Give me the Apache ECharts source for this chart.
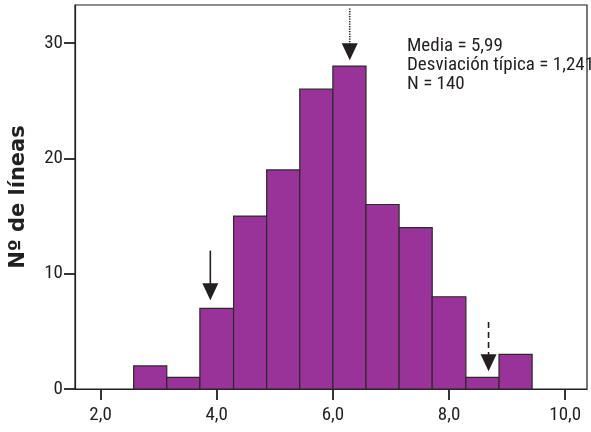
<!DOCTYPE html>
<html>
<head>
<meta charset="utf-8">
<script src="https://cdn.jsdelivr.net/npm/echarts@6/dist/echarts.min.js"></script>
<style>html,body{margin:0;padding:0;background:#fff;}#c{width:591px;height:432px;}</style>
</head>
<body>
<div id="c"></div>
<script>
// ---- data ----
var binEdges = [2.57, 3.14, 3.71, 4.29, 4.86, 5.43, 6.00, 6.57, 7.14, 7.71, 8.29, 8.86, 9.43];
var counts = [2, 1, 7, 15, 19, 26, 28, 16, 14, 8, 1, 3];
var xTicks = [2, 4, 6, 8, 10];
var yTicks = [0, 10, 20, 30];
var arrowX = [3.89, 6.29, 8.68];
var arrowTop = [12.0, 33.0, 5.8];
var arrowTip = [7.7, 28.5, 1.55];
var arrowKind = ['solid', 'dotted', 'dashed'];
var statMedia = '5,99';
var statDesv = '1,241';
var statN = '140';
var yTitle = 'Nº de líneas';

var FONT = '"Roboto Condensed", "DejaVu Sans Condensed", "Liberation Sans", sans-serif';
var INK = '#231f20';

var barData = [];
for (var i = 0; i < counts.length; i++) barData.push([binEdges[i], binEdges[i + 1], counts[i]]);
var arrowData = [];
for (var j = 0; j < arrowX.length; j++) arrowData.push([arrowX[j], arrowTop[j], arrowTip[j], j]);

var chart = echarts.init(document.getElementById('c'), null, {renderer: 'canvas'});
chart.setOption({
  animation: false,
  backgroundColor: '#fff',
  grid: {left: 73, top: 5, right: 4, bottom: 43, show: true, borderColor: INK, borderWidth: 1.2},
  xAxis: {
    type: 'value', min: 1.56, max: 10.375,
    splitLine: {show: false},
    axisLine: {lineStyle: {color: INK, width: 1.2}},
    axisTick: {show: true, customValues: xTicks, length: 11, lineStyle: {color: INK, width: 1.8}},
    axisLabel: {customValues: xTicks, margin: 17, color: INK, fontFamily: FONT, fontSize: 19,
      formatter: function (v) { return v.toFixed(1).replace('.', ','); }}
  },
  yAxis: {
    type: 'value', min: 0, max: 33.3,
    name: yTitle, nameLocation: 'middle', nameGap: 46,
    nameTextStyle: {fontFamily: '"DejaVu Sans", "Liberation Sans", Arial, sans-serif', fontWeight: 'bold', fontSize: 21, color: INK},
    splitLine: {show: false},
    axisLine: {show: true, lineStyle: {color: INK, width: 1.2}},
    axisTick: {show: true, customValues: yTicks, length: 11, lineStyle: {color: INK, width: 1.8}},
    axisLabel: {customValues: yTicks, margin: 12, color: INK, fontFamily: FONT, fontSize: 19}
  },
  series: [{
    type: 'custom',
    data: barData,
    encode: {x: [0, 1], y: 2},
    renderItem: function (params, api) {
      var p0 = api.coord([api.value(0), api.value(2)]);
      var p1 = api.coord([api.value(1), 0]);
      return {type: 'rect', shape: {x: p0[0], y: p0[1], width: p1[0] - p0[0], height: p1[1] - p0[1]},
        style: {fill: '#993399', stroke: '#2a2a2a', lineWidth: 1.2}};
    }
  }, {
    type: 'custom',
    data: arrowData,
    encode: {x: 0, y: [1, 2]},
    z: 5,
    renderItem: function (params, api) {
      var x = api.value(0);
      var top = api.coord([x, api.value(1)]);
      var tip = api.coord([x, api.value(2)]);
      var kind = arrowKind[api.value(3)];
      var headLen = 17, headW = 8;
      var dash = kind === 'dotted' ? [1.2, 1.3] : (kind === 'dashed' ? [6, 4] : null);
      return {type: 'group', children: [
        {type: 'line', shape: {x1: top[0], y1: top[1], x2: tip[0], y2: tip[1] - headLen + 1},
          style: {stroke: INK, lineWidth: 1.6, lineDash: dash}},
        {type: 'polygon', shape: {points: [[tip[0] - headW, tip[1] - headLen], [tip[0] + headW, tip[1] - headLen], [tip[0], tip[1]]]},
          style: {fill: INK}}
      ]};
    }
  }],
  graphic: [{
    type: 'text', left: 407, top: 37,
    style: {text: 'Media = ' + statMedia + '\nDesviación típica = ' + statDesv + '\nN = ' + statN,
      font: '19px ' + FONT, fill: INK, lineHeight: 19}
  }]
});
</script>
</body>
</html>
